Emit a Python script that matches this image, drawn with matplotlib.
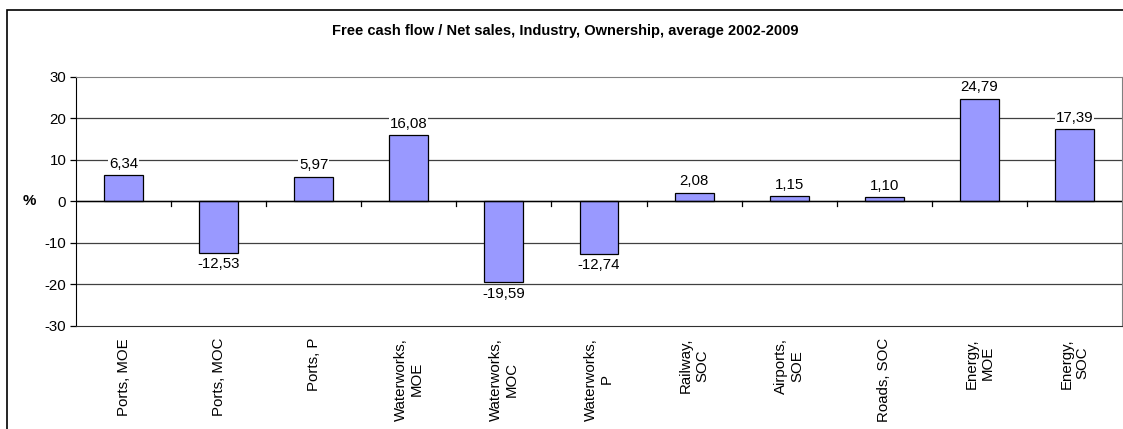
import numpy as np
import matplotlib
matplotlib.use("Agg")
from matplotlib import pyplot as plt
from matplotlib.patches import Rectangle

categories = ["Ports, MOE", "Ports, MOC", "Ports, P", "Waterworks,\nMOE",
              "Waterworks,\nMOC", "Waterworks,\nP", "Railway,\nSOC",
              "Airports,\nSOE", "Roads, SOC", "Energy,\nMOE", "Energy,\nSOC"]
values = [6.34, -12.53, 5.97, 16.08, -19.59, -12.74, 2.08, 1.15, 1.10, 24.79, 17.39]
yticks = [-30, -20, -10, 0, 10, 20, 30]

plt.rcParams['font.family'] = ['Liberation Sans', 'DejaVu Sans']
FS = 10.8

W, H = 1123, 429
fig = plt.figure(figsize=(W / 100, H / 100), dpi=100)
fig.patch.set_facecolor("white")

# outer chart frame (runs off the right and bottom edges)
fig.patches.append(Rectangle((7 / W, -0.1), 1.2, 1 - 10 / H + 0.1,
                             transform=fig.transFigure, fill=False,
                             edgecolor="black", linewidth=1.2))

ax = fig.add_axes([76 / W, 1 - 325.5 / H, (1122 - 76) / W, (325.5 - 77) / H])

x = np.arange(len(categories))
ax.bar(x, values, width=0.41, color="#9999FF", edgecolor="black",
       linewidth=0.9, zorder=3)

ax.set_xlim(-0.5, len(categories) - 0.5)
ax.set_ylim(-30, 30)
ax.set_yticks(yticks)
ax.set_yticklabels([str(t) for t in yticks], fontsize=FS)
for t in yticks[1:-1]:
    ax.axhline(t, color="#404040", linewidth=0.9, zorder=1)
ax.axhline(0, color="black", linewidth=1.0, zorder=4)

# category ticks sit on the zero line, between bars
for b in np.arange(0.5, len(categories) - 1, 1.0):
    ax.plot([b, b], [0, -1.2], color="black", linewidth=0.9, zorder=4,
            clip_on=False)

ax.set_xticks([])
for i, lab in enumerate(categories):
    ax.text(i, -33.0, lab, rotation=90, ha="center", va="top",
            multialignment="center", fontsize=FS, transform=ax.transData)

for s in ["top", "right"]:
    ax.spines[s].set_color("#808080")
ax.spines["bottom"].set_color("#303030")
ax.spines["left"].set_color("black")
ax.tick_params(axis="y", direction="out", length=4, width=0.9, pad=3)

for i, v in enumerate(values):
    lab = f"{v:.2f}".replace(".", ",")
    if v >= 0:
        ax.text(i, v + 1.0, lab, ha="center", va="bottom", fontsize=FS,
                zorder=5, bbox=dict(facecolor="white", edgecolor="none", pad=0.5))
    else:
        ax.text(i, v - 1.0, lab, ha="center", va="top", fontsize=FS,
                zorder=5, bbox=dict(facecolor="white", edgecolor="none", pad=0.5))

fig.text(29 / W, 1 - 201 / H, "%", ha="center", va="center",
         fontsize=FS, fontweight="bold")
fig.text(565 / W, 1 - 31 / H,
         "Free cash flow / Net sales, Industry, Ownership, average 2002-2009",
         ha="center", va="center", fontsize=10.5, fontweight="bold")

fig.savefig("out.png", dpi=100)
